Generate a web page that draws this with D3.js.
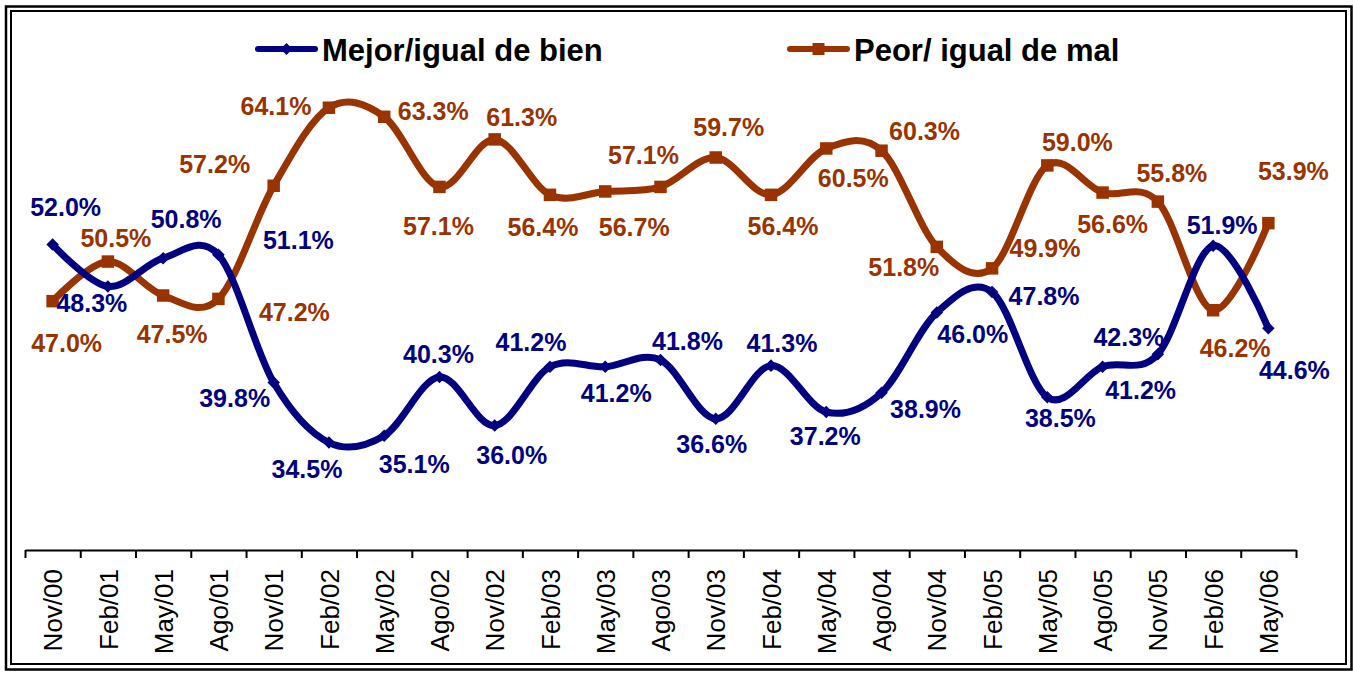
<!DOCTYPE html>
<html>
<head>
<meta charset="utf-8">
<script src="https://cdn.jsdelivr.net/npm/d3@7"></script>
<style>
  body { margin: 0; background: #fff; }
  text { font-family: "Liberation Sans", Arial, sans-serif; }
</style>
</head>
<body>
<script>
// survey waves
const periods = ["Nov/00", "Feb/01", "May/01", "Ago/01", "Nov/01", "Feb/02", "May/02", "Ago/02",
  "Nov/02", "Feb/03", "May/03", "Ago/03", "Nov/03", "Feb/04", "May/04", "Ago/04",
  "Nov/04", "Feb/05", "May/05", "Ago/05", "Nov/05", "Feb/06", "May/06"];

const mejor = [52.0, 48.3, 50.8, 51.1, 39.8, 34.5, 35.1, 40.3, 36.0, 41.2, 41.2, 41.8,
  36.6, 41.3, 37.2, 38.9, 46.0, 47.8, 38.5, 41.2, 42.3, 51.9, 44.6];
const peor = [47.0, 50.5, 47.5, 47.2, 57.2, 64.1, 63.3, 57.1, 61.3, 56.4, 56.7, 57.1,
  59.7, 56.4, 60.5, 60.3, 51.8, 49.9, 59.0, 56.6, 55.8, 46.2, 53.9];

const seriesNames = ["Mejor/igual de bien", "Peor/ igual de mal"];

// label offsets (dx, dy) from each point, placed by hand like in the original
const mejorLabelPos = [[13, -37], [-16, 17], [23, -39], [80, -15], [-39, 16], [-22, 27], [30, 28],
  [-1, -23], [17, 30], [-19, -25], [11, 26], [27, -19], [-4, 25], [11, -22], [-1, 24],
  [44, 16], [36, 22], [52, 4], [13, 21], [38, 23], [-29, -17], [9, -20], [26, 42]];
const peorLabelPos = [[14, 42], [8, -23], [9, 39], [76, 13], [-59, -22], [-53, -1], [49, -6],
  [-1, 39], [27, -22], [-7, 32], [29, 36], [-17, -32], [13, -30], [12, 31], [27, 30],
  [43, -19], [-33, 20], [53, -20], [30, -23], [10, 32], [14, -28], [22, 38], [25, -52]];

const blue = "#000080";
const brown = "#993300";

const svg = d3.select("body").append("svg")
  .attr("width", 1354)
  .attr("height", 673);

// double frame
svg.append("rect").attr("x", 6).attr("y", 6.5).attr("width", 1345.5).attr("height", 663)
  .attr("fill", "none").attr("stroke", "#000").attr("stroke-width", 2.5);
svg.append("rect").attr("x", 11).attr("y", 11).attr("width", 1335).attr("height", 653)
  .attr("fill", "none").attr("stroke", "#000").attr("stroke-width", 2);

const x0 = 25, x1 = 1296, axisY = 550;

const x = d3.scalePoint().domain(periods).range([x0, x1]).padding(0.5);
const xEdge = d3.scaleLinear().domain([0, periods.length]).range([x0, x1]);
const y = d3.scaleLinear().domain([25, 70]).range([axisY, 41]);

// tick marks at category boundaries
svg.append("g")
  .attr("transform", `translate(0,${axisY})`)
  .call(d3.axisBottom(xEdge).tickValues(d3.range(periods.length + 1)).tickFormat("").tickSize(8).tickSizeOuter(0))
  .call(g => g.select(".domain").attr("stroke", "#000").attr("stroke-width", 2))
  .call(g => g.selectAll(".tick line").attr("stroke", "#000").attr("stroke-width", 2));

// category labels
const xAxis = svg.append("g")
  .attr("transform", `translate(0,${axisY})`)
  .call(d3.axisBottom(x).tickSize(0));
xAxis.select(".domain").remove();
xAxis.selectAll("text")
  .attr("font-family", "'Liberation Sans', Arial, sans-serif")
  .attr("font-size", 26)
  .attr("fill", "#000")
  .attr("text-anchor", "end")
  .attr("transform", "rotate(-90)")
  .attr("x", -19)
  .attr("y", 0)
  .attr("dy", "0.35em");

const line = d3.line()
  .x((d, i) => x(periods[i]))
  .y(d => y(d))
  .curve(d3.curveCardinal.tension(0));

function drawSeries(values, color, shape, labelPos) {
  svg.append("path")
    .datum(values)
    .attr("d", line)
    .attr("fill", "none")
    .attr("stroke", color)
    .attr("stroke-width", 7)
    .attr("stroke-linejoin", "round")
    .attr("stroke-linecap", "round");

  svg.selectAll(null)
    .data(values)
    .enter()
    .append("path")
    .attr("transform", (d, i) => `translate(${x(periods[i])},${y(d)})`)
    .attr("d", d3.symbol().type(shape).size(shape === d3.symbolSquare ? 156 : 100))
    .attr("fill", color);

  svg.selectAll(null)
    .data(values)
    .enter()
    .append("text")
    .attr("x", (d, i) => x(periods[i]) + labelPos[i][0])
    .attr("y", (d, i) => y(d) + labelPos[i][1])
    .attr("dy", "0.35em")
    .attr("text-anchor", "middle")
    .attr("font-size", 25)
    .attr("font-weight", "bold")
    .attr("fill", color)
    .text(d => d.toFixed(1) + "%");
}

drawSeries(peor, brown, d3.symbolSquare, peorLabelPos);
drawSeries(mejor, blue, d3.symbolDiamond2, mejorLabelPos);

// legend
const legend = [
  { name: seriesNames[0], color: blue, shape: d3.symbolDiamond2, lx: 258 },
  { name: seriesNames[1], color: brown, shape: d3.symbolSquare, lx: 790 }
];
legend.forEach(l => {
  svg.append("line")
    .attr("x1", l.lx).attr("x2", l.lx + 57)
    .attr("y1", 49).attr("y2", 49)
    .attr("stroke", l.color).attr("stroke-width", 6).attr("stroke-linecap", "round");
  svg.append("path")
    .attr("transform", `translate(${l.lx + 28.5},49)`)
    .attr("d", d3.symbol().type(l.shape).size(l.shape === d3.symbolSquare ? 144 : 90))
    .attr("fill", l.color);
  svg.append("text")
    .attr("x", l.lx + 64)
    .attr("y", 61)
    .attr("font-size", 31)
    .attr("font-weight", "bold")
    .attr("fill", "#000")
    .text(l.name);
});
</script>
</body>
</html>
